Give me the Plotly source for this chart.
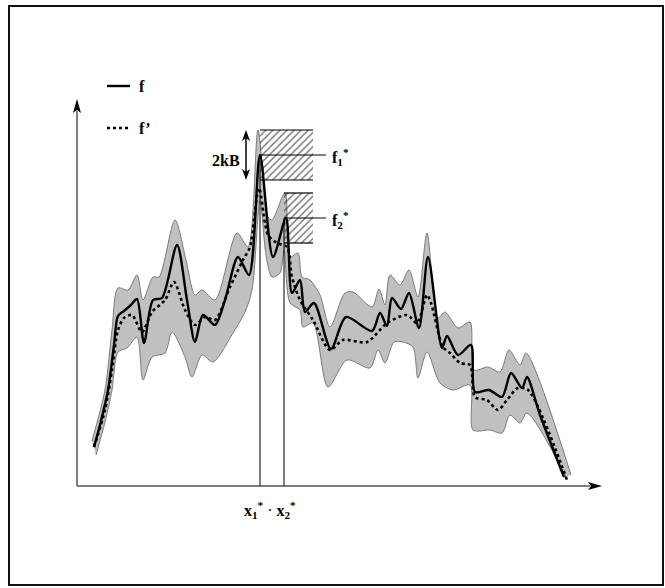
import plotly.graph_objects as go

# ---- data (chart units: x to the right of the y-axis, y above the x-axis) ----
f_x = [17, 23, 31, 37, 41, 47, 54, 60, 67, 76, 85, 100, 110, 118, 126, 138, 148, 161, 172, 183,
       196, 209, 215, 223, 228, 237, 254, 269, 295, 303, 310, 315, 324, 332, 342, 351, 365, 370,
       381, 394, 398, 412, 425, 434, 445, 450, 463, 487]
f_y = [39, 61, 96, 141, 170, 175, 181, 187, 143, 186, 188, 241, 186, 144, 171, 161, 186, 229, 211, 331,
       229, 268, 193, 206, 174, 183, 137, 169, 155, 173, 160, 188, 177, 193, 158, 229, 138, 150,
       131, 141, 94, 96, 89, 113, 98, 109, 71, 9]

fp_x = [17, 28, 35, 41, 47, 55, 65, 75, 88, 97, 108, 118, 128, 138, 153, 166, 173, 182, 191, 200,
        210, 215, 223, 236, 253, 266, 290, 310, 330, 340, 350, 354, 366, 373, 383, 393, 398, 410,
        421, 430, 441, 451, 490]
fp_y = [39, 76, 116, 156, 168, 171, 154, 174, 186, 204, 176, 161, 169, 166, 199, 226, 239, 298, 251, 243,
        239, 209, 186, 166, 136, 146, 144, 163, 171, 163, 191, 183, 139, 133, 123, 121, 89, 86,
        76, 86, 98, 96, 6]

up_x = [15, 28, 35, 41, 51, 60, 66, 76, 82, 98, 109, 118, 125, 138, 160, 171, 181, 191, 195, 208,
        213, 221, 225, 233, 243, 253, 268, 276, 295, 302, 308, 313, 323, 332, 341, 350, 361, 368,
        381, 393, 397, 411, 423, 432, 443, 449, 494]
up_y = [45, 96, 156, 198, 196, 211, 186, 209, 209, 266, 226, 191, 196, 186, 253, 239, 356, 269, 266, 293,
        229, 233, 209, 206, 191, 159, 193, 194, 179, 197, 181, 211, 201, 216, 189, 253, 168, 174,
        158, 164, 116, 119, 114, 136, 121, 133, 11]

lo_x = [19, 28, 35, 41, 50, 60, 66, 75, 88, 95, 108, 115, 125, 136, 156, 168, 175, 183, 189, 195,
        203, 207, 213, 223, 226, 236, 251, 270, 293, 301, 308, 317, 326, 336, 341, 350, 363, 376,
        393, 396, 413, 425, 433, 443, 450, 489]
lo_y = [31, 64, 96, 134, 138, 149, 106, 129, 133, 154, 129, 109, 131, 124, 153, 174, 196, 286, 231, 209,
        213, 236, 183, 176, 159, 163, 99, 126, 118, 136, 123, 144, 144, 139, 108, 134, 103, 96,
        101, 56, 56, 53, 71, 63, 73, 9]

x1_star, x2_star = 183, 207
f1_star, f2_star = 331, 268
kB = 25
box_right = 236
ref_line_end = 249
x_axis_end, y_axis_end = 525, 387

FONT = "Liberation Serif"

fig = go.Figure()

# confidence band
fig.add_trace(go.Scatter(x=lo_x, y=lo_y, mode="lines", line=dict(color="#7a7a7a", width=1, shape="spline", smoothing=0.8),
                         hoverinfo="skip"))
fig.add_trace(go.Scatter(x=up_x, y=up_y, mode="lines", line=dict(color="#7a7a7a", width=1, shape="spline", smoothing=0.8),
                         fill="tonexty", fillcolor="#c0c0c0", hoverinfo="skip"))

# hatched boxes  f* +- kB
for xs, fs in [(x1_star, f1_star), (x2_star, f2_star)]:
    fig.add_trace(go.Scatter(x=[xs, box_right, box_right, xs, xs],
                             y=[fs - kB, fs - kB, fs + kB, fs + kB, fs - kB],
                             mode="lines", line=dict(width=0), fill="toself",
                             fillcolor="rgba(0,0,0,0)",
                             fillpattern=dict(shape="/", size=5, solidity=0.3, fgcolor="black",
                                              bgcolor="rgba(0,0,0,0)"),
                             hoverinfo="skip"))

# curves
fig.add_trace(go.Scatter(x=fp_x, y=fp_y, mode="lines",
                         line=dict(color="black", width=2.6, dash="dot", shape="spline", smoothing=0.8)))
fig.add_trace(go.Scatter(x=f_x, y=f_y, mode="lines",
                         line=dict(color="black", width=2.4, shape="spline", smoothing=0.8)))

shapes = []
# outer frame
shapes.append(dict(type="rect", x0=-68, x1=586, y0=-99, y1=480, line=dict(color="#111", width=2)))
# axes
shapes.append(dict(type="line", x0=0, x1=x_axis_end - 12, y0=0, y1=0, line=dict(color="#555", width=1.5)))
shapes.append(dict(type="line", x0=0, x1=0, y0=0, y1=y_axis_end - 12, line=dict(color="#555", width=1.5)))
shapes.append(dict(type="path", path=f"M {x_axis_end},0 L {x_axis_end-14},4 L {x_axis_end-11},0 L {x_axis_end-14},-4 Z",
                   fillcolor="black", line=dict(width=0)))
shapes.append(dict(type="path", path=f"M 0,{y_axis_end} L -4,{y_axis_end-14} L 0,{y_axis_end-11} L 4,{y_axis_end-14} Z",
                   fillcolor="black", line=dict(width=0)))
# x* verticals and f* references
for xs, fs in [(x1_star, f1_star), (x2_star, f2_star)]:
    shapes.append(dict(type="line", x0=xs, x1=xs, y0=0, y1=fs, line=dict(color="black", width=1)))
    shapes.append(dict(type="line", x0=xs, x1=ref_line_end, y0=fs, y1=fs, line=dict(color="black", width=1.2)))
    for yy in (fs - kB, fs + kB):
        shapes.append(dict(type="line", x0=xs, x1=box_right, y0=yy, y1=yy, line=dict(color="black", width=1.2)))
# 2kB double arrow
ax_x = 169
shapes.append(dict(type="line", x0=ax_x, x1=ax_x, y0=f1_star - kB + 8, y1=f1_star + kB - 8, line=dict(color="black", width=1.5)))
shapes.append(dict(type="path", path=f"M {ax_x},{f1_star+kB} L {ax_x-4},{f1_star+kB-11} L {ax_x},{f1_star+kB-8} L {ax_x+4},{f1_star+kB-11} Z",
                   fillcolor="black", line=dict(width=0)))
shapes.append(dict(type="path", path=f"M {ax_x},{f1_star-kB} L {ax_x-4},{f1_star-kB+11} L {ax_x},{f1_star-kB+8} L {ax_x+4},{f1_star-kB+11} Z",
                   fillcolor="black", line=dict(width=0)))
# legend samples
shapes.append(dict(type="line", x0=30, x1=53, y0=400, y1=400, line=dict(color="black", width=2.4)))
shapes.append(dict(type="line", x0=30, x1=53, y0=358, y1=358, line=dict(color="black", width=2.6, dash="dot")))

ann = []
def txt(x, y, s, size=16, xanchor="left", xshift=0, yshift=0):
    ann.append(dict(x=x, y=y, text=s, showarrow=False, xanchor=xanchor, yanchor="middle",
                    xshift=xshift, yshift=yshift, borderpad=0,
                    font=dict(family=FONT, size=size, color="black")))

txt(61, 400, "<b>f</b>")
txt(61, 358, "<b>f’</b>")
txt(ax_x - 5, f1_star, "<b>2kB</b>", xanchor="right", yshift=-5)
txt(ref_line_end + 5, f1_star, "<b>f<sub>1</sub><sup>*</sup></b>", yshift=-2)
txt(ref_line_end + 5, f2_star, "<b>f<sub>2</sub><sup>*</sup></b>", yshift=-2)
txt((x1_star + x2_star) / 2 - 2, -24, "<b>x<sub>1</sub><sup>*</sup></b> · <b>x<sub>2</sub><sup>*</sup></b>", xanchor="center")

fig.update_layout(width=665, height=588, margin=dict(l=0, r=0, t=0, b=0), autosize=False,
                  paper_bgcolor="white", plot_bgcolor="white", showlegend=False,
                  xaxis=dict(range=[-77, 588], visible=False, fixedrange=True),
                  yaxis=dict(range=[-102, 486], visible=False, fixedrange=True),
                  shapes=shapes, annotations=ann)

fig.write_html("out.html", config={"displayModeBar": False, "staticPlot": True},
               post_script="document.body.style.margin='0';document.body.style.overflow='hidden';")
